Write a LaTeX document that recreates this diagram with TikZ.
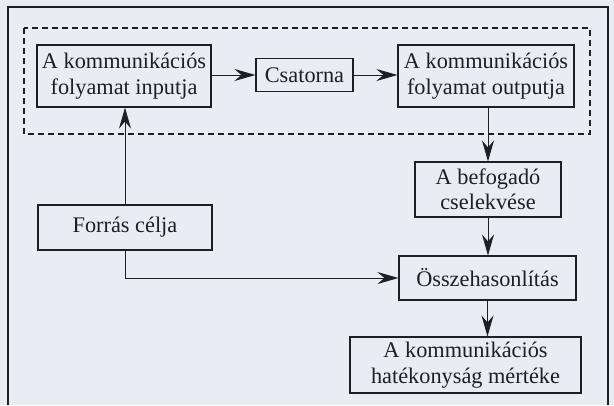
\documentclass[tikz,border=0pt]{standalone}
\usepackage{fontspec}
\setmainfont{Liberation Serif}
\usetikzlibrary{arrows.meta}
\definecolor{bg}{RGB}{233,236,243}
\definecolor{ink}{RGB}{30,30,35}
\tikzset{
  box/.style={draw=ink, line width=1.1pt, inner sep=0pt, align=center, text=ink,
    font=\fontsize{22.3}{25.5}\selectfont},
  conn/.style={draw=ink, line width=0.9pt, -{Stealth[length=21pt, width=12pt, inset=7pt]}},
}
\begin{document}
\begin{tikzpicture}[x=1pt,y=-1pt]
\useasboundingbox (0,0) rectangle (614,405);
\fill[bg] (0,0) rectangle (614,405);
% outer frame
\draw[ink, line width=1.6pt] (8,405) -- (8,7) -- (608,7) -- (608,405);
% dashed group
\draw[ink, line width=2pt, dash pattern=on 6pt off 4pt] (24,28) rectangle (590,134);
% nodes
\node[box, minimum width=174pt, minimum height=62pt] (in) at (124,76) {A kommunikációs\\folyamat inputja};
\node[box, minimum width=97pt, minimum height=33pt] (csat) at (304.5,75) {Csatorna};
\node[box, minimum width=176pt, minimum height=62pt] (out) at (486,76) {A kommunikációs\\folyamat outputja};
\node[box, minimum width=146pt, minimum height=55pt] (bef) at (488,189.5) {A befogadó\\cselekvése};
\node[box, minimum width=177pt, minimum height=44pt] (ossz) at (487.5,278) {Összehasonlítás};
\node[box, minimum width=231pt, minimum height=56pt] (hat) at (465.5,365) {A kommunikációs\\hatékonyság mértéke};
\node[box, minimum width=174pt, minimum height=45pt] (forras) at (125,227.5) {Forrás célja};
\coordinate (corner) at (125,278);
% connectors
\draw[conn] (in.east |- csat.west) -- (csat.west);
\draw[conn] (csat.east) -- (csat.east -| out.west);
\draw[conn] (bef.north |- out.south) -- (bef.north);
\draw[conn] (bef.south) -- (bef.south |- ossz.north);
\draw[conn] (ossz.south) -- (ossz.south |- hat.north);
\draw[conn] (forras.north) -- (forras.north |- in.south);
\draw[conn] (forras.south) -- (corner) -- (corner -| ossz.west);
\end{tikzpicture}
\end{document}
